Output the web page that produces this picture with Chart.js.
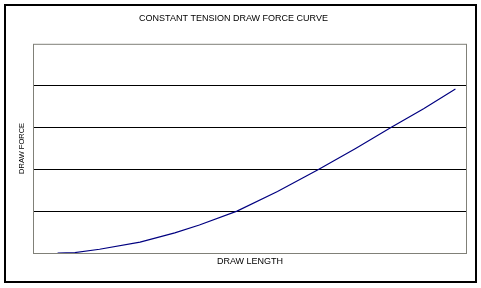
<!DOCTYPE html>
<html>
<head>
<meta charset="utf-8">
<script src="https://cdn.jsdelivr.net/npm/chart.js@4/dist/chart.umd.min.js"></script>
<style>
  html, body { margin: 0; padding: 0; background: #fff; }
  #wrap { width: 481px; height: 288px; }
</style>
</head>
<body>
<div id="wrap"><canvas id="force-chart" width="481" height="288"></canvas></div>
<script>
// draw length (arbitrary units) and draw force
const drawLength = [1.7, 2.9, 4.6, 7.4, 9.8, 11.5, 14.1, 16.9, 19.7, 22.3, 24.8, 27.0, 29.2];
const drawForce = [0.0, 0.01, 0.09, 0.26, 0.48, 0.67, 1.0, 1.47, 1.99, 2.5, 3.01, 3.45, 3.92];
const forceTicks = [0, 1, 2, 3, 4, 5];

const chartTitle = 'CONSTANT TENSION DRAW FORCE CURVE';
const xTitle = 'DRAW LENGTH';
const yTitle = 'DRAW FORCE';

const points = drawLength.map((x, i) => ({ x, y: drawForce[i] }));

// plot frame + outer border
const framePlugin = {
  id: 'frame',
  afterDraw(chart) {
    const { ctx, chartArea: a } = chart;
    ctx.save();
    ctx.strokeStyle = '#808078';
    ctx.lineWidth = 1;
    ctx.strokeRect(a.left + 0.5, a.top + 0.5, a.right - a.left - 1, a.bottom - a.top);
    ctx.strokeStyle = '#000';
    ctx.lineWidth = 2;
    ctx.strokeRect(5, 5, 471, 277);
    ctx.restore();
  }
};

function initChart() {
  try {
    const ctx = document.getElementById('force-chart').getContext('2d');
    new Chart(ctx, {
      type: 'line',
      data: {
        datasets: [{
          data: points,
          borderColor: '#000080',
          borderWidth: 1.2,
          pointRadius: 0,
          tension: 0,
          fill: false
        }]
      },
      options: {
        responsive: false,
        animation: false,
        events: [],
        layout: { padding: { left: 0, right: 14, top: 0, bottom: 0 } },
        plugins: {
          legend: { display: false },
          tooltip: { enabled: false },
          title: {
            display: true,
            text: chartTitle,
            color: '#000',
            font: { family: 'Arial, "Liberation Sans", sans-serif', size: 9, weight: 'normal', lineHeight: 1.2 },
            padding: { top: 13, bottom: 20 }
          }
        },
        scales: {
          x: {
            type: 'linear',
            min: 0,
            max: 30,
            grid: { display: false },
            border: { display: false },
            ticks: { display: false },
            title: {
              display: true,
              text: xTitle,
              color: '#000',
              font: { family: 'Arial, "Liberation Sans", sans-serif', size: 9, lineHeight: 1.2 },
              padding: { top: 0, bottom: 21 }
            },
            afterFit: (scale) => { scale.height = 35; }
          },
          y: {
            min: 0,
            max: 5,
            afterBuildTicks: (scale) => { scale.ticks = forceTicks.map(v => ({ value: v })); },
            grid: {
              color: (c) => (c.tick && c.tick.value > 0 && c.tick.value < 5) ? '#000' : 'rgba(0,0,0,0)',
              lineWidth: 1,
              drawTicks: false
            },
            border: { display: false },
            ticks: { display: false },
            title: {
              display: true,
              text: yTitle,
              color: '#000',
              font: { family: 'Arial, "Liberation Sans", sans-serif', size: 7.5, lineHeight: 1.2 },
              padding: { top: 17, bottom: 0 }
            },
            afterFit: (scale) => { scale.width = 33; }
          }
        }
      },
      plugins: [framePlugin]
    });
  } catch (e) {
    console.error('chart failed: ' + e.message);
  }
}

document.addEventListener('DOMContentLoaded', initChart);
</script>
</body>
</html>
